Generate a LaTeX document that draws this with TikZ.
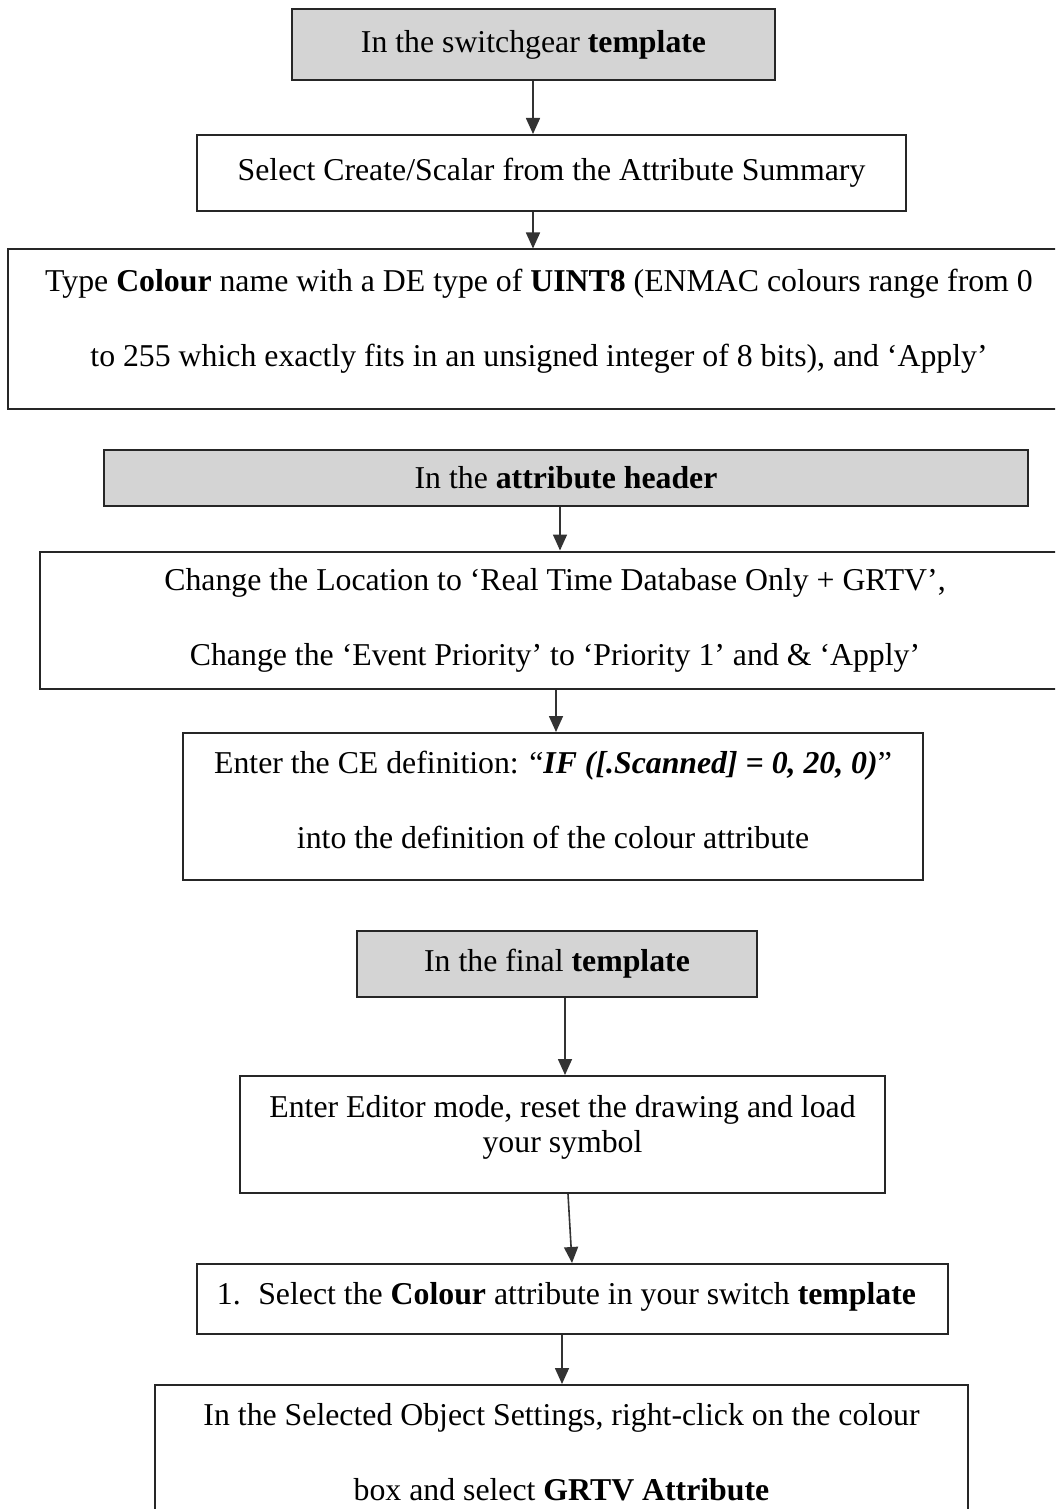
\documentclass[tikz,border=0pt]{standalone}
\usepackage{fontspec}
\setmainfont{Liberation Serif}
\usetikzlibrary{arrows.meta}
\def\px{0.368pt}
\tikzset{
  box/.style={draw=black!85, line width=2*\px, fill=white, align=center, inner sep=0pt},
  graybox/.style={box, fill=black!17},
  arr/.style={draw=black!80, line width=1.6*\px, -{Triangle[width=14*\px,length=16*\px]}},
  dbl/.style={font=\fontsize{11.7pt}{27.6pt}\selectfont},
  sgl/.style={font=\fontsize{11.7pt}{12.9pt}\selectfont}
}
\begin{document}
\begin{tikzpicture}[x=0.368pt,y=-0.368pt]
\useasboundingbox (0,0) rectangle (1055,1509);
\clip (0,0) rectangle (1055,1509);
\fill[white] (0,0) rectangle (1055,1509);
% boxes
\node[graybox, dbl, minimum width={483*\px}, minimum height={71*\px}] (b1) at (533.5,44.5) {In the switchgear \textbf{template}};
\node[box, dbl, minimum width={709*\px}, minimum height={76*\px}] (b2) at (551.5,173) {Select Create/Scalar from the Attribute Summary};
\node[box, dbl, minimum width={1062*\px}, minimum height={159*\px}] (b3) at (539,329) {Type \textbf{Colour} name with a DE type of \textbf{UINT8} (ENMAC colours range from 0\\to 255 which exactly fits in an unsigned integer of 8 bits), and ‘Apply’\rule[-8pt]{0pt}{0pt}};
\node[graybox, dbl, minimum width={924*\px}, minimum height={56*\px}] (b4) at (566,478) {In the \textbf{attribute header}};
\node[box, dbl, minimum width={1030*\px}, minimum height={137*\px}] (b5) at (555,620) {Change the Location to ‘Real Time Database Only + GRTV’,\\Change the ‘Event Priority’ to ‘Priority 1’ and \& ‘Apply’};
\node[box, dbl, minimum width={740*\px}, minimum height={147*\px}] (b6) at (553,806.5) {Enter the CE definition: “\textbf{\textit{IF ([.Scanned] = 0, 20, 0)}}”\\into the definition of the colour attribute\rule[-5pt]{0pt}{0pt}};
\node[graybox, dbl, minimum width={400*\px}, minimum height={66*\px}] (b7) at (557,964) {In the final \textbf{template}};
\node[box, sgl, minimum width={645*\px}, minimum height={117*\px}] (b8) at (562.5,1134.5) {Enter Editor mode, reset the drawing and load\\your symbol\rule[-8pt]{0pt}{0pt}};
\node[box, dbl, minimum width={751*\px}, minimum height={70*\px}] (b9) at (572.5,1299) {1.\hspace{0.55em}Select the \textbf{Colour} attribute in your switch \textbf{template}\hspace{4.4pt}\rule[-4pt]{0pt}{0pt}};
\node[box, dbl, minimum width={813*\px}, minimum height={135*\px}] (b10) at (561.5,1452.5) {In the Selected Object Settings, right-click on the colour\\box and select \textbf{GRTV Attribute}};
% arrow columns
\coordinate (c1) at (533,0);
\coordinate (c2) at (533,0);
\coordinate (c3) at (560,0);
\coordinate (c4) at (556,0);
\coordinate (c5) at (565,0);
\coordinate (c6a) at (568,0);
\coordinate (c6b) at (572,0);
\coordinate (c7) at (562,0);
\draw[arr] (c1 |- b1.south) -- (c1 |- b2.north);
\draw[arr] (c2 |- b2.south) -- (c2 |- b3.north);
\draw[arr] (c3 |- b4.south) -- (c3 |- b5.north);
\draw[arr] (c4 |- b5.south) -- (c4 |- b6.north);
\draw[arr] (c5 |- b7.south) -- (c5 |- b8.north);
\draw[arr] (c6a |- b8.south) -- (c6b |- b9.north);
\draw[arr] (c7 |- b9.south) -- (c7 |- b10.north);
\end{tikzpicture}
\end{document}
